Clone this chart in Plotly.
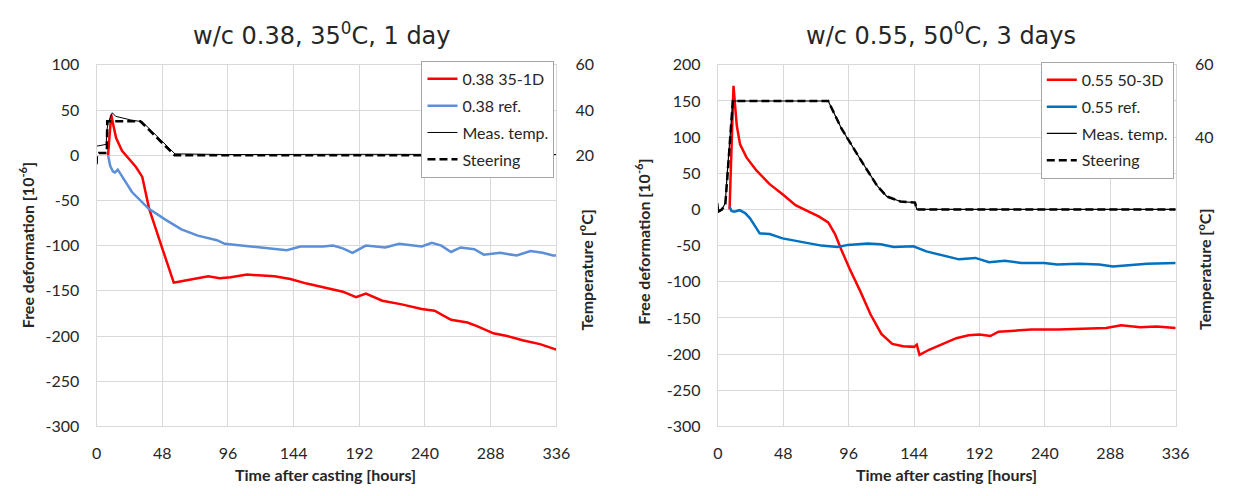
import plotly.graph_objects as go

# ---------------- Left chart: w/c 0.38, 35C, 1 day ----------------
L_red_t = [8.4, 10.7, 12, 14.3, 18.6, 23.9, 28.8, 33.4, 38.4, 48, 56.4, 60, 69.6, 81.6, 90, 98, 110, 130,
           141.6, 153.6, 165.6, 180, 189.6, 196.8, 208.8, 223, 237.6, 247, 259, 271, 278, 290, 300, 312, 324, 336]
L_red_v = [0, 45, 35, 19, 5, -4, -13, -24, -59, -103, -141, -140, -137, -134, -136, -135, -132, -134,
           -137, -142, -146, -151, -157, -153, -161, -165, -170, -172, -182, -185, -189, -197, -200, -205, -209, -215]

L_blue_t = [8.4, 10, 12, 13.5, 15.5, 19, 26, 38, 50, 62, 74, 88, 93.6, 112.8, 139, 149, 165.6, 172.8, 180,
            187, 196.8, 211, 221, 237.6, 245, 252, 259, 266, 276, 283, 295, 307, 317, 326, 333.6, 336]
L_blue_v = [0, -12, -18, -19, -16, -24, -41, -59, -71, -82, -89, -94, -98, -101, -105, -101, -101, -100, -103,
            -108, -100, -102, -98, -101, -97, -100, -107, -102, -104, -110, -108, -111, -106, -108, -111, -111]

L_meas_t = [0, 7, 7.6, 8.4, 11.5, 14, 25, 33.4, 57.3, 96, 192, 336]
L_meas_T = [24, 24.8, 31, 34.4, 38.8, 37.2, 35.6, 34.8, 20.6, 20.3, 20.4, 20.3]

L_steer_t = [0, 0.3, 1.5, 7.5, 7.8, 32, 57, 336]
L_steer_T = [16, 20.5, 21, 21, 35, 35, 20, 20]

# ---------------- Right chart: w/c 0.55, 50C, 3 days ----------------
R_red_t = [8.6, 10, 11.5, 12.5, 13.9, 16.3, 21, 28.3, 38, 47.5, 57, 66.7, 74, 81, 86, 90.7, 96.7, 105, 112,
           120, 128, 136, 144, 146, 148, 155, 165, 175, 184, 192, 200, 206, 215, 230, 250, 270, 285, 296, 310, 322, 336]
R_red_v = [0, 100, 171, 147, 116, 90, 72, 54, 35, 21, 6, -3, -9.5, -18, -34, -56, -82, -115, -145,
           -172, -186, -189, -190, -187, -201, -194, -186, -178, -174, -173, -175, -169, -168, -166, -166, -165, -164, -160, -163, -162, -164]

R_blue_t = [8.6, 10, 12, 16, 20, 23.5, 30.7, 38, 47.5, 57, 66.7, 76, 88, 95.5, 110, 119.5, 129, 143.5, 153,
            165, 177, 189, 199, 210.7, 222.7, 239.5, 249, 265, 280, 290, 300, 315, 336]
R_blue_v = [4, -2, -3, -1, -5, -12, -33, -34, -40, -43, -47, -50, -52, -49, -47, -48, -52, -51, -58,
            -64, -69, -67, -73, -71, -74, -74, -76, -75, -76, -79, -77, -75, -74]

R_meas_t = [0, 0.7, 3.1, 5.5, 6.7, 8.6, 10.3, 11, 81, 90.7, 105, 117, 124, 134, 144.7, 146, 336]
R_meas_T = [21.8, 19.4, 20, 21.8, 29, 38, 46.8, 50, 50, 42.4, 33.6, 26.5, 23.6, 22.2, 21.9, 20, 20]

R_steer_t = [0, 0.7, 3, 5.5, 7, 9, 11, 81, 90.7, 105, 117, 124, 134, 144.7, 146, 336]
R_steer_T = [20, 19.5, 20, 21.5, 29, 39, 50, 50, 42.4, 33.6, 26.5, 23.6, 22.2, 21.9, 20, 20]

x_ticks = [0, 48, 96, 144, 192, 240, 288, 336]
yL_ticks = [100, 50, 0, -50, -100, -150, -200, -250, -300]
yR_ticks = [200, 150, 100, 50, 0, -50, -100, -150, -200, -250, -300]
tL_ticks = [20, 40, 60]
tR_ticks = [40, 60]

FONT = "Lato"
TXT = "#262626"
GRID = "#d9d9d9"
W, H = 1233, 496

fig = go.Figure()

def add(x, y, name, color, width, xa, ya, leg, dash=None):
    line = dict(color=color, width=width)
    if dash:
        line["dash"] = dash
    fig.add_trace(go.Scatter(x=x, y=y, name=name, mode="lines", line=line,
                             xaxis=xa, yaxis=ya, legend=leg, legendgroup=leg + name))

add(L_red_t, L_red_v, "0.38 35-1D", "#ff0000", 2.5, "x", "y", "legend")
add(L_blue_t, L_blue_v, "0.38 ref.", "#5b8fd8", 2.5, "x", "y", "legend")
add(L_meas_t, L_meas_T, "Meas. temp.", "#000000", 1, "x", "y2", "legend")
add(L_steer_t, L_steer_T, "Steering", "#000000", 2.5, "x", "y2", "legend", dash="8px,4px")

add(R_red_t, R_red_v, "0.55 50-3D", "#ff0000", 2.5, "x2", "y3", "legend2")
add(R_blue_t, R_blue_v, "0.55 ref.", "#0070c0", 2.5, "x2", "y3", "legend2")
add(R_meas_t, R_meas_T, "Meas. temp.", "#000000", 1.2, "x2", "y4", "legend2")
add(R_steer_t, R_steer_T, "Steering", "#000000", 2.5, "x2", "y4", "legend2", dash="8px,4px")

ydom = [1 - 433 / H, 1 - 57 / H]
xdomL = [93 / W, 560 / W]
xdomR = [724 / W, 1189 / W]

tickfont = dict(family=FONT, size=16, color=TXT)
common_x = dict(range=[0, 336], tickvals=x_ticks, ticktext=[str(v) for v in x_ticks],
                showgrid=True, gridcolor=GRID, gridwidth=1,
                zeroline=False, showline=True, linecolor=GRID, mirror=True,
                ticks="outside", ticklen=12, tickcolor="rgba(0,0,0,0)", tickfont=tickfont)
common_y = dict(showgrid=True, gridcolor=GRID, gridwidth=1, zeroline=False, showline=True,
                linecolor=GRID, mirror=True, ticks="outside", ticklen=13,
                tickcolor="rgba(0,0,0,0)", tickfont=tickfont, domain=ydom)
temp_y = dict(showgrid=False, zeroline=False, showline=False, ticks="outside", ticklen=15,
              tickcolor="rgba(0,0,0,0)", tickfont=tickfont, side="right")

legend_common = dict(bgcolor="white", bordercolor="#a6a6a6", borderwidth=1,
                     font=dict(family=FONT, size=16, color=TXT), itemwidth=30,
                     xanchor="left", yanchor="top", tracegroupgap=3)

fig.update_layout(
    width=W, height=H, margin=dict(l=0, r=0, t=0, b=0),
    paper_bgcolor="white", plot_bgcolor="white",
    xaxis=dict(domain=xdomL, anchor="y", **common_x),
    yaxis=dict(range=[-300, 100], tickvals=yL_ticks, ticktext=[str(v) for v in yL_ticks], anchor="x", **common_y),
    yaxis2=dict(range=[-100, 60], tickvals=tL_ticks, ticktext=[str(v) for v in tL_ticks],
                overlaying="y", anchor="x", **temp_y),
    xaxis2=dict(domain=xdomR, anchor="y3", **common_x),
    yaxis3=dict(range=[-300, 200], tickvals=yR_ticks, ticktext=[str(v) for v in yR_ticks], anchor="x2", **common_y),
    yaxis4=dict(range=[-40, 60], tickvals=tR_ticks, ticktext=[str(v) for v in tR_ticks],
                overlaying="y3", anchor="x2", **temp_y),
    legend=dict(x=423 / W, y=1 - 53 / H, **legend_common),
    legend2=dict(x=1052 / W, y=1 - 54 / H, **legend_common),
    showlegend=True,
)

title_font = dict(family="DejaVu Sans", size=24, color=TXT)
axt_font = dict(family=FONT, size=16, color=TXT)
ann = [
    dict(text="w/c 0.38, 35<sup>0</sup>C, 1 day", x=322 / W, y=1 - 25 / H, font=title_font),
    dict(text="w/c 0.55, 50<sup>0</sup>C, 3 days", x=951 / W, y=1 - 25 / H, font=title_font),
    dict(text="<b>Time after casting [hours]</b>", x=326 / W, y=1 - 483 / H, font=axt_font),
    dict(text="<b>Time after casting [hours]</b>", x=956 / W, y=1 - 483 / H, font=axt_font),
    dict(text="<b>Free deformation [10<sup>-6</sup>]</b>", x=22 / W, y=1 - 245 / H, font=axt_font, textangle=-90),
    dict(text="<b>Free deformation [10<sup>-6</sup>]</b>", x=648 / W, y=1 - 241 / H, font=axt_font, textangle=-90),
    dict(text="<b>Temperature [<sup>o</sup>C]</b>", x=590 / W, y=1 - 270 / H, font=axt_font, textangle=-90),
    dict(text="<b>Temperature [<sup>o</sup>C]</b>", x=1218 / W, y=1 - 270 / H, font=axt_font, textangle=-90),
]
for a in ann:
    fig.add_annotation(xref="paper", yref="paper", showarrow=False, xanchor="center", yanchor="middle", **a)

fig.write_html("out.html")
